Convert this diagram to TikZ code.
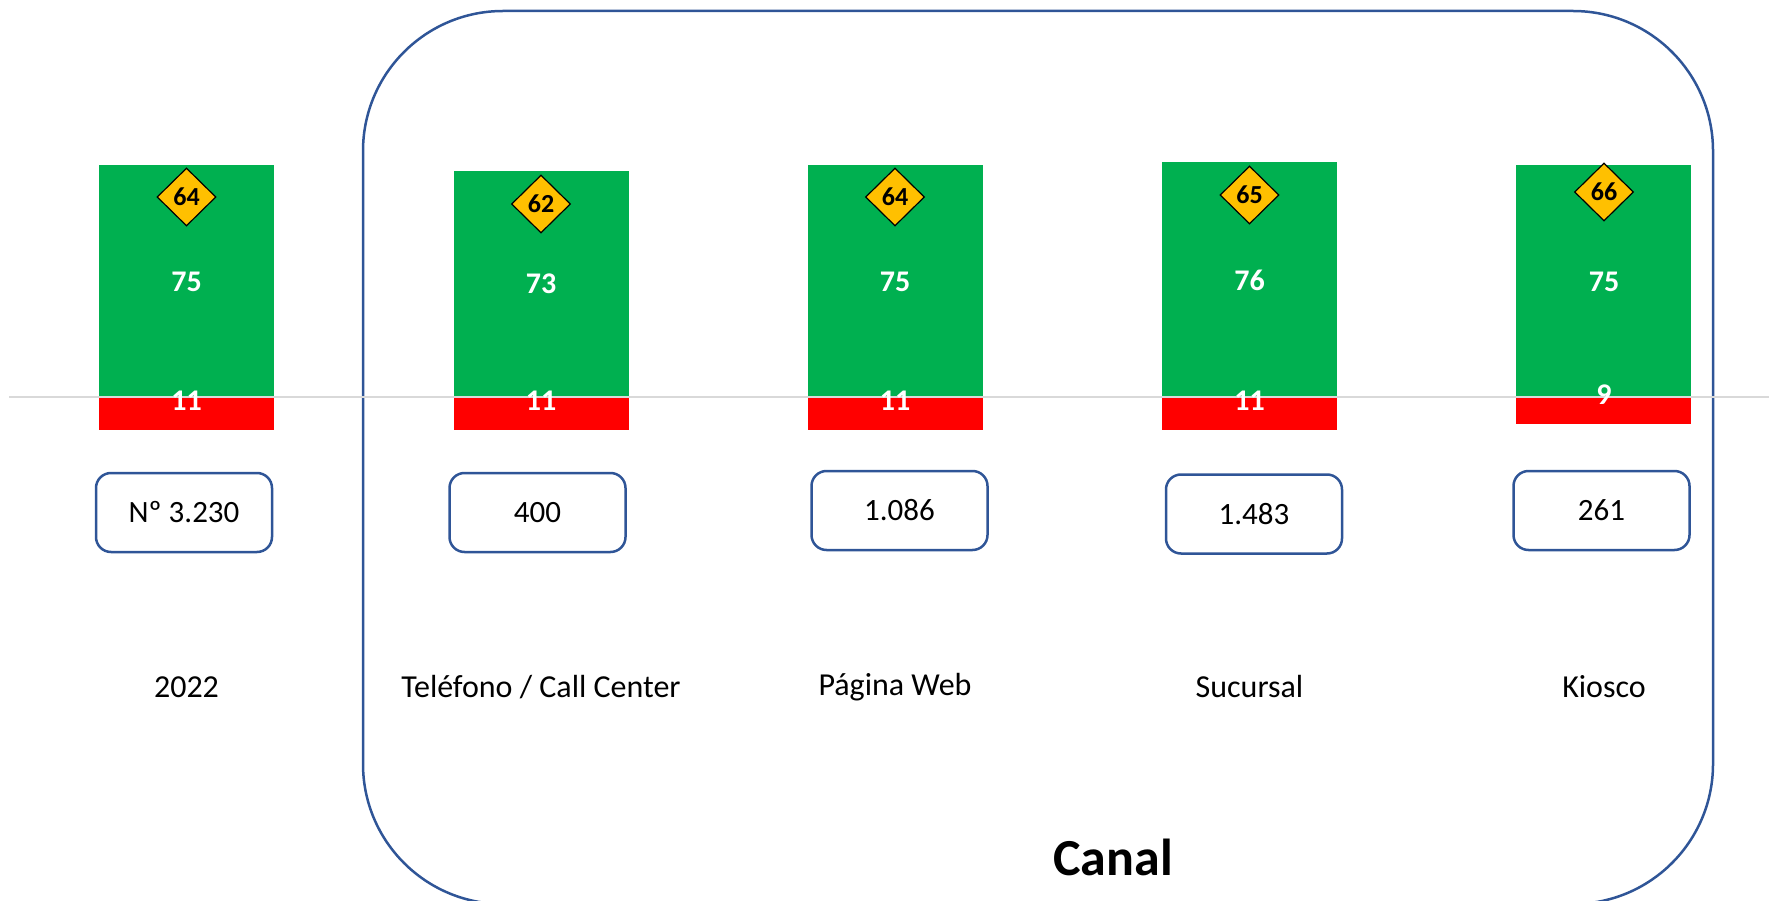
\documentclass[tikz,border=0pt]{standalone}
\usepackage{fontspec}
\setmainfont{Carlito}
\usetikzlibrary{shapes.geometric}

\definecolor{barGreen}{HTML}{00B050}
\definecolor{barRed}{HTML}{FF0000}
\definecolor{tagGold}{HTML}{FFC000}
\definecolor{frameBlue}{HTML}{2F5597}
\definecolor{axisGray}{HTML}{D9D9D9}

\tikzset{
  catlabel/.style={text=black, font=\fontsize{32}{38}\selectfont},
  countbox/.style={draw=frameBlue, line width=2.5pt, rounded corners=15pt,
    minimum width=176pt, minimum height=79pt, font=\fontsize{31}{37}\selectfont},
  barval/.style={text=white, inner sep=0pt, font=\bfseries\fontsize{30}{36}\selectfont},
  scoretag/.style={diamond, draw=black, line width=1.2pt, fill=tagGold,
    minimum width=59pt, minimum height=58pt, inner sep=0pt,
    font=\bfseries\fontsize{26}{31}\selectfont},
}

\begin{document}
\begin{tikzpicture}[x=1pt, y=-1pt]
  \useasboundingbox (0,0) rectangle (1769,901);
  \clip (0,0) rectangle (1769,901);

  % frame around the channels
  \draw[frameBlue, line width=2.5pt, rounded corners=140pt] (363,11) rectangle (1713,904);

  % stacked bars: positive share above the axis, negative below
  \fill[barGreen] (99,165) rectangle (274,397);
  \fill[barRed] (99,397) rectangle (274,430);
  \fill[barGreen] (453.5,171) rectangle (628.5,397);
  \fill[barRed] (453.5,397) rectangle (628.5,430);
  \fill[barGreen] (807.5,165) rectangle (982.5,397);
  \fill[barRed] (807.5,397) rectangle (982.5,430);
  \fill[barGreen] (1162,162) rectangle (1337,397);
  \fill[barRed] (1162,397) rectangle (1337,430);
  \fill[barGreen] (1516,165) rectangle (1691,397);
  \fill[barRed] (1516,397) rectangle (1691,424);

  \draw[axisGray, line width=2pt] (9,397) -- (1769,397);

  % 2022
  \node[barval] (pos22) at (186.5,282) {75};
  \node[barval] (neg22) at (186.5,401) {11};
  \node[scoretag] (tag22) at (186.5,197) {64};
  \node[countbox] (count22) at (184,512.5) {Nº 3.230};
  \node[catlabel] (cat22) at (186.5,687) {2022};

  % Teléfono / Call Center
  \node[barval] (postel) at (541,284) {73};
  \node[barval] (negtel) at (541,401) {11};
  \node[scoretag] (tagtel) at (541,204) {62};
  \node[countbox] (counttel) at (537.5,512.5) {400};
  \node[catlabel] (cattel) at (541,687) {Teléfono / Call Center};

  % Página Web
  \node[barval] (posweb) at (895,282) {75};
  \node[barval] (negweb) at (895,401) {11};
  \node[scoretag] (tagweb) at (895,197) {64};
  \node[countbox] (countweb) at (899.5,510.5) {1.086};
  \node[catlabel] (catweb) at (895,687) {Página Web};

  % Sucursal
  \node[barval] (possuc) at (1249.5,280) {76};
  \node[barval] (negsuc) at (1249.5,401) {11};
  \node[scoretag] (tagsuc) at (1249.5,195) {65};
  \node[countbox] (countsuc) at (1254,514) {1.483};
  \node[catlabel] (catsuc) at (1249.5,687) {Sucursal};

  % Kiosco
  \node[barval] (poskio) at (1604,282) {75};
  \node[barval] (negkio) at (1604,395) {9};
  \node[scoretag] (tagkio) at (1604,192) {66};
  \node[countbox] (countkio) at (1601.5,510.5) {261};
  \node[catlabel] (catkio) at (1604,687) {Kiosco};

  \node[font=\bfseries\fontsize{52}{62}\selectfont] (canal) at (1113,857) {Canal};
\end{tikzpicture}
\end{document}
